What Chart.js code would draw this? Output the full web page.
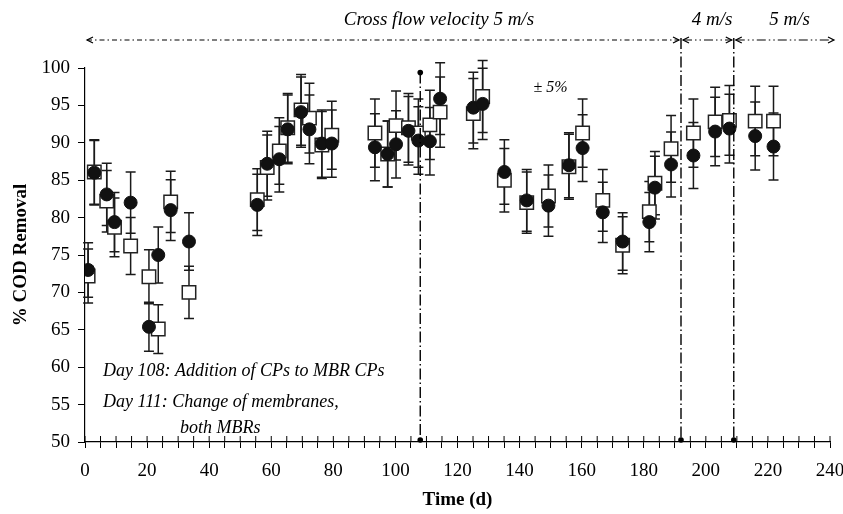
<!DOCTYPE html>
<html>
<head>
<meta charset="utf-8">
<script src="https://cdn.jsdelivr.net/npm/chart.js@4.4.0/dist/chart.umd.min.js"></script>
<style>
  html, body { margin: 0; padding: 0; background: #fff; }
</style>
</head>
<body>
<canvas id="chart" width="843" height="514"></canvas>
<script>
const days = [1, 3, 7, 9.5, 14.7, 20.6, 23.6, 27.6, 33.5, 55.5, 58.7, 62.6, 65.3, 69.6, 72.3, 76.3, 79.5,
  93.4, 97.5, 100.2, 104.2, 107.4, 111.1, 114.4, 125.1, 128.1, 135.1, 142.3, 149.3, 155.9, 160.3,
  166.8, 173.2, 181.8, 183.6, 188.8, 196, 203, 207.6, 215.9, 221.8];
const codCircles = [73.0, 86.0, 83.1, 79.4, 82.0, 65.4, 75.0, 81.0, 76.8, 81.7, 87.2, 87.8, 91.8, 94.1, 91.8,
  89.9, 89.9, 89.4, 88.5, 89.8, 91.6, 90.3, 90.2, 95.9, 94.7, 95.2, 86.1, 82.3, 81.6, 87.0, 89.3,
  80.7, 76.8, 79.4, 84.0, 87.1, 88.3, 91.5, 91.9, 90.9, 89.5];
const codSquares = [72.2, 86.1, 82.2, 78.7, 76.2, 72.1, 65.1, 82.1, 70.0, 82.4, 86.7, 88.9, 92.0, 94.4, 93.3,
  89.7, 91.0, 91.3, 88.5, 92.3, 92.0, 91.3, 92.4, 94.1, 93.9, 96.2, 85.0, 82.0, 82.9, 86.8, 91.3,
  82.3, 76.3, 80.8, 84.6, 89.2, 91.3, 92.8, 93.0, 92.9, 92.9];
const errPct = 5; // +-5% bars

const eventDay = 108;
const eventTop = 99.4;
const velocityChanges = [0, 192, 209, 240];
const velocityLabels = ['Cross flow velocity 5 m/s', '4 m/s', '5 m/s'];
const velocityLabelDays = [114, 202, 227];

const FONT = "'Liberation Serif', 'Times New Roman', serif";

const errorBars = {
  id: 'errorBars',
  beforeDatasetsDraw(chart) {
    const { ctx, scales: { x, y } } = chart;
    ctx.save();
    ctx.strokeStyle = '#1a1a1a';
    ctx.lineWidth = 1.5;
    chart.data.datasets.forEach(ds => {
      ds.data.forEach(p => {
        const px = x.getPixelForValue(p.x);
        const e = p.y * errPct / 100;
        const top = y.getPixelForValue(p.y + e);
        const bot = y.getPixelForValue(p.y - e);
        ctx.beginPath();
        ctx.moveTo(px, top); ctx.lineTo(px, bot);
        ctx.moveTo(px - 5, top); ctx.lineTo(px + 5, top);
        ctx.moveTo(px - 5, bot); ctx.lineTo(px + 5, bot);
        ctx.stroke();
      });
    });
    ctx.restore();
  }
};

function arrowHead(ctx, x, y, dir) {
  ctx.beginPath();
  ctx.moveTo(x - dir * 6, y - 3);
  ctx.lineTo(x, y);
  ctx.lineTo(x - dir * 6, y + 3);
  ctx.stroke();
}

const annotations = {
  id: 'annotations',
  afterDraw(chart) {
    const { ctx, scales: { x, y }, chartArea } = chart;
    ctx.save();
    ctx.strokeStyle = '#000';
    ctx.fillStyle = '#000';
    ctx.lineWidth = 1.2;

    // velocity arrows above the plot
    const ay = chartArea.top - 28;
    for (let i = 0; i < velocityChanges.length - 1; i++) {
      const x1 = x.getPixelForValue(velocityChanges[i]) + 2;
      const x2 = x.getPixelForValue(velocityChanges[i + 1]) + (i === 2 ? 4 : -2);
      ctx.setLineDash(i === 0 ? [5, 3, 1.5, 3] : [9, 3, 1.5, 3, 1.5, 3]);
      ctx.beginPath();
      ctx.moveTo(x1, ay); ctx.lineTo(x2, ay);
      ctx.stroke();
      ctx.setLineDash([]);
      arrowHead(ctx, x1, ay, -1);
      arrowHead(ctx, x2, ay, 1);
    }

    // vertical change lines
    ctx.lineWidth = 1.4;
    ctx.setLineDash([11, 3, 1.5, 3]);
    [velocityChanges[1], velocityChanges[2]].forEach(d => {
      const px = x.getPixelForValue(d);
      ctx.beginPath();
      ctx.moveTo(px, ay - 2); ctx.lineTo(px, y.getPixelForValue(50));
      ctx.stroke();
    });
    const ex = x.getPixelForValue(eventDay);
    ctx.beginPath();
    ctx.moveTo(ex, y.getPixelForValue(eventTop)); ctx.lineTo(ex, y.getPixelForValue(50));
    ctx.stroke();
    ctx.setLineDash([]);
    [[eventDay, eventTop], [eventDay, 50], [velocityChanges[1], 50], [velocityChanges[2], 50]].forEach(([d, v]) => {
      ctx.beginPath();
      ctx.arc(x.getPixelForValue(d), y.getPixelForValue(v) - (v === 50 ? 2 : 0), 2.8, 0, Math.PI * 2);
      ctx.fill();
    });

    // texts
    ctx.font = 'italic 19px ' + FONT;
    ctx.textBaseline = 'middle';
    ctx.textAlign = 'center';
    velocityLabels.forEach((t, i) => {
      ctx.fillText(t, x.getPixelForValue(velocityLabelDays[i]), chartArea.top - 48);
    });
    ctx.font = 'italic 16px ' + FONT;
    ctx.fillText('\u00b1 5%', x.getPixelForValue(150), y.getPixelForValue(97.4));
    ctx.font = 'italic 18px ' + FONT;
    ctx.textAlign = 'left';
    ctx.fillText('Day 108: Addition of CPs to MBR CPs', x.getPixelForValue(5.8), y.getPixelForValue(59.4));
    ctx.fillText('Day 111: Change of membranes,', x.getPixelForValue(5.8), y.getPixelForValue(55.3));
    ctx.fillText('both MBRs', x.getPixelForValue(30.6), y.getPixelForValue(51.8));

    // x ticks crossing the axis (inner half)
    ctx.lineWidth = 1;
    const by = y.getPixelForValue(50);
    x.ticks.forEach(t => {
      const px = x.getPixelForValue(t.value);
      ctx.beginPath();
      ctx.moveTo(px, by); ctx.lineTo(px, by - 6);
      ctx.stroke();
    });
    ctx.restore();
  }
};

new Chart(document.getElementById('chart'), {
  type: 'scatter',
  data: {
    datasets: [
      {
        label: 'MBR CPs',
        data: days.map((d, i) => ({ x: d, y: codCircles[i] })),
        pointStyle: 'circle',
        pointRadius: 6.5,
        backgroundColor: '#111',
        borderColor: '#111',
        borderWidth: 1
      },
      {
        label: 'MBR',
        data: days.map((d, i) => ({ x: d, y: codSquares[i] })),
        pointStyle: 'rect',
        pointRadius: 9.5,
        backgroundColor: '#fff',
        borderColor: '#222',
        borderWidth: 1.5
      }
    ]
  },
  options: {
    responsive: false,
    animation: false,
    layout: { padding: { top: 68, right: 0, left: 0, bottom: 0 } },
    plugins: { legend: { display: false }, tooltip: { enabled: false } },
    scales: {
      x: {
        type: 'linear',
        min: 0,
        max: 240,
        afterFit: s => { s.height = 72; s.paddingLeft = 0; s.paddingRight = 13; },
        ticks: {
          stepSize: 5,
          autoSkip: false,
          maxRotation: 0,
          padding: 12,
          color: '#000',
          font: { family: FONT, size: 19 },
          callback: v => (v % 20 === 0 ? v : '')
        },
        grid: { display: true, drawOnChartArea: false, tickLength: 6, color: '#000' },
        border: { display: true, color: '#000', width: 1.2 },
        title: {
          display: true,
          text: 'Time (d)',
          color: '#000',
          font: { family: FONT, size: 19, weight: 'bold' },
          padding: { top: 2, bottom: 3 }
        }
      },
      y: {
        min: 50,
        max: 100,
        afterFit: s => { s.width = 85; },
        ticks: {
          stepSize: 5,
          padding: 8,
          color: '#000',
          font: { family: FONT, size: 19 }
        },
        grid: { display: true, drawOnChartArea: false, tickLength: 7, color: '#000' },
        border: { display: true, color: '#000', width: 1.2 },
        title: {
          display: true,
          text: '% COD Removal',
          color: '#000',
          font: { family: FONT, size: 19, weight: 'bold' },
          padding: { top: 10, bottom: 0 }
        }
      }
    }
  },
  plugins: [errorBars, annotations]
});
</script>
</body>
</html>
